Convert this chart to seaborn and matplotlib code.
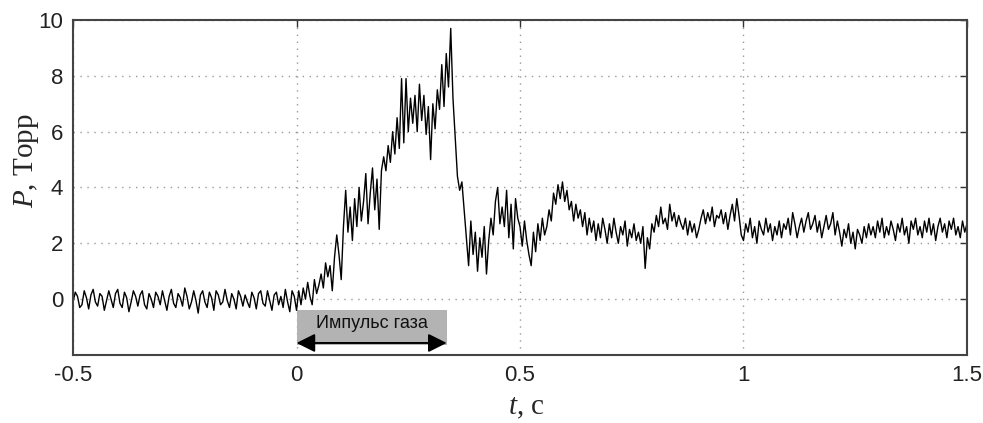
import numpy as np
import pandas as pd
import matplotlib
matplotlib.use("Agg")
import matplotlib.pyplot as plt
import seaborn as sns

# time axis: -0.5 .. 1.5 s, step 0.005 s
t_start, t_stop, t_step = -0.5, 1.5, 0.005

# pressure values (Torr), in consecutive blocks of 0.1 s
p_base1 = [-0.1, 0.25, 0.1, -0.3, -0.2, 0.3, 0.05, -0.35, 0.15, 0.35, -0.1, -0.25, 0.2, 0.1, -0.4, -0.05, 0.3, 0.0, -0.3, 0.2]
p_base2 = [0.35, -0.15, -0.3, 0.25, 0.05, -0.45, -0.1, 0.3, 0.1, -0.25, 0.15, 0.3, -0.2, -0.35, 0.2, 0.0, -0.3, 0.25, 0.1, -0.2]
p_base3 = [0.3, -0.05, -0.4, 0.1, 0.35, -0.15, -0.3, 0.2, 0.05, -0.25, 0.4, 0.1, -0.35, -0.1, 0.3, -0.05, -0.5, 0.15, 0.3, -0.1]
p_base4 = [-0.3, 0.25, 0.05, -0.4, 0.3, 0.15, -0.2, -0.1, 0.35, -0.05, -0.3, 0.2, 0.0, -0.35, 0.3, 0.1, -0.25, 0.15, -0.1, -0.3]
p_base5 = [0.25, 0.05, -0.35, 0.2, 0.3, -0.15, -0.25, 0.3, -0.05, -0.4, 0.15, 0.25, -0.2, 0.1, -0.3, 0.35, -0.1, -0.45, 0.3, 0.1]
p_rise1 = [-0.4, 0.3, -0.2, 0.4, 0.0, 0.6, 0.1, -0.2, 0.7, 0.2, 0.5, 0.9, 0.4, 1.3, 0.8, 1.2, 0.3, 1.5, 2.3, 1.6]
p_rise2 = [0.7, 2.6, 3.9, 2.4, 3.3, 2.1, 3.6, 2.6, 4.0, 2.8, 3.5, 4.5, 2.7, 3.8, 4.7, 3.2, 4.3, 2.5, 4.6, 5.1]
p_rise3 = [4.6, 5.5, 4.9, 6.0, 5.2, 6.5, 5.4, 7.9, 5.6, 7.9, 6.0, 7.2, 6.3, 7.3, 6.0, 7.7, 6.4, 7.3, 5.9, 6.9]
p_peak = [5.0, 7.0, 6.1, 7.5, 6.8, 8.4, 6.9, 8.8, 7.6, 9.7, 7.2, 5.8, 4.4, 3.9, 4.2, 3.2, 2.2, 1.2, 2.8, 1.6]
p_after1 = [2.4, 1.0, 2.2, 1.5, 2.6, 0.9, 2.1, 2.9, 2.3, 3.5, 4.0, 2.7, 3.3, 2.6, 3.9, 2.2, 3.4, 1.8, 3.6, 2.9]
p_after2 = [2.6, 1.9, 2.8, 2.1, 1.6, 1.2, 2.4, 1.7, 2.7, 2.1, 2.9, 2.3, 2.6, 3.2, 2.8, 3.8, 3.4, 4.1, 3.6, 4.2]
p_after3 = [3.5, 3.9, 3.2, 3.5, 2.8, 3.4, 2.9, 3.2, 2.6, 3.1, 2.3, 2.9, 2.4, 2.8, 2.1, 2.7, 2.2, 2.9, 2.5, 2.0]
p_tail1 = [2.7, 2.2, 2.9, 2.4, 2.0, 2.6, 2.3, 2.8, 1.9, 2.5, 2.2, 2.7, 2.1, 2.4, 2.0, 2.6, 1.1, 2.2, 1.8, 2.7]
p_tail2 = [2.4, 3.0, 2.6, 3.3, 2.7, 2.9, 2.5, 3.4, 2.8, 3.1, 2.6, 3.0, 2.7, 2.5, 2.9, 2.3, 2.8, 2.4, 2.7, 2.2]
p_tail3 = [2.5, 2.9, 3.2, 2.7, 3.1, 2.8, 3.3, 2.6, 3.0, 2.9, 3.2, 2.7, 3.1, 2.5, 3.0, 3.4, 2.8, 3.6, 3.0, 2.3]
p_tail4 = [2.1, 2.7, 2.4, 2.9, 2.2, 2.6, 2.0, 2.8, 2.5, 2.3, 2.9, 2.4, 2.7, 2.1, 2.6, 2.3, 2.8, 2.2, 2.7, 2.5]
p_tail5 = [2.9, 2.3, 3.1, 2.7, 2.2, 2.6, 2.9, 2.4, 2.8, 3.1, 2.5, 2.7, 3.0, 2.4, 2.8, 2.2, 2.6, 3.0, 2.5, 2.7]
p_tail6 = [3.1, 2.3, 2.8, 2.4, 1.9, 2.5, 2.2, 2.7, 2.0, 2.4, 1.8, 2.5, 2.3, 2.0, 2.6, 2.2, 2.7, 2.3, 2.6, 2.2]
p_tail7 = [2.8, 2.4, 2.9, 2.2, 2.6, 2.3, 2.8, 2.5, 2.1, 2.7, 2.4, 2.9, 2.3, 2.6, 2.0, 2.8, 2.5, 2.9, 2.3, 2.6]
p_tail8 = [2.2, 2.8, 2.4, 2.9, 2.3, 2.7, 2.1, 2.6, 2.9, 2.4, 2.7, 2.2, 2.8, 2.5, 2.9, 2.3, 2.6, 2.2, 2.8, 2.4, 2.7]

x_ticks = [-0.5, 0, 0.5, 1, 1.5]
x_tick_labels = ["-0.5", "0", "0.5", "1", "1.5"]
y_ticks = [0, 2, 4, 6, 8, 10]
y_tick_labels = ["0", "2", "4", "6", "8", "10"]

pulse_start, pulse_end = 0.0, 0.336
pulse_label = "Импульс газа"

pressure = (p_base1 + p_base2 + p_base3 + p_base4 + p_base5 + p_rise1 + p_rise2 + p_rise3
            + p_peak + p_after1 + p_after2 + p_after3 + p_tail1 + p_tail2 + p_tail3
            + p_tail4 + p_tail5 + p_tail6 + p_tail7 + p_tail8)
n = len(pressure)
time = np.round(t_start + t_step * np.arange(n), 4)
df = pd.DataFrame({"t": time, "P": pressure})

sns.set_style("white")
plt.rcParams["font.family"] = ["Liberation Sans", "DejaVu Sans"]
plt.rcParams["mathtext.fontset"] = "custom"
plt.rcParams["mathtext.it"] = "Liberation Serif:italic"
plt.rcParams["mathtext.rm"] = "Liberation Serif"

fig = plt.figure(figsize=(9.83, 4.23), dpi=100)
ax = fig.add_axes([0.0743, 0.1608, 0.9094, 0.7919])

# gas pulse box + arrow
ax.add_patch(plt.Rectangle((pulse_start, -1.64), pulse_end - pulse_start, 1.25,
                           facecolor="#b3b3b3", edgecolor="none", zorder=1))
ax.annotate("", xy=(pulse_start, -1.57), xytext=(pulse_end, -1.57),
            arrowprops=dict(arrowstyle="<|-|>", color="black", lw=1.4,
                            mutation_scale=28, shrinkA=0, shrinkB=0), zorder=3)
ax.text((pulse_start + pulse_end) / 2, -0.88, pulse_label, ha="center", va="center",
        fontsize=13, color="#111111", zorder=3)

sns.lineplot(data=df, x="t", y="P", color="black", linewidth=1.0, ax=ax, zorder=2)

ax.set_xlim(-0.5, 1.5)
ax.set_ylim(-2, 10)
ax.set_xticks(x_ticks)
ax.set_xticklabels(x_tick_labels)
ax.set_yticks(y_ticks)
ax.set_yticklabels(y_tick_labels)
ax.tick_params(axis="both", which="both", direction="in", length=5, width=1,
               colors="#333333", labelsize=16, labelcolor="#222222",
               top=True, right=True, pad=7)
ax.grid(True, color="#999999", linestyle=(0, (1, 4)), linewidth=1)
for s in ax.spines.values():
    s.set_color("#444444")
    s.set_linewidth(1.5)

ax.set_xlabel("")
ax.set_ylabel("")
fig.text(0.535, 0.005, "$\\mathit{t}$, с", ha="center", va="bottom",
         fontsize=21, family=["Liberation Serif", "DejaVu Serif"])
fig.text(0.012, 0.62, "$\\mathit{P}$, Торр", ha="left", va="center", rotation=90,
         fontsize=21, family=["Liberation Serif", "DejaVu Serif"])

fig.savefig("out.png", dpi=100, facecolor="white")
